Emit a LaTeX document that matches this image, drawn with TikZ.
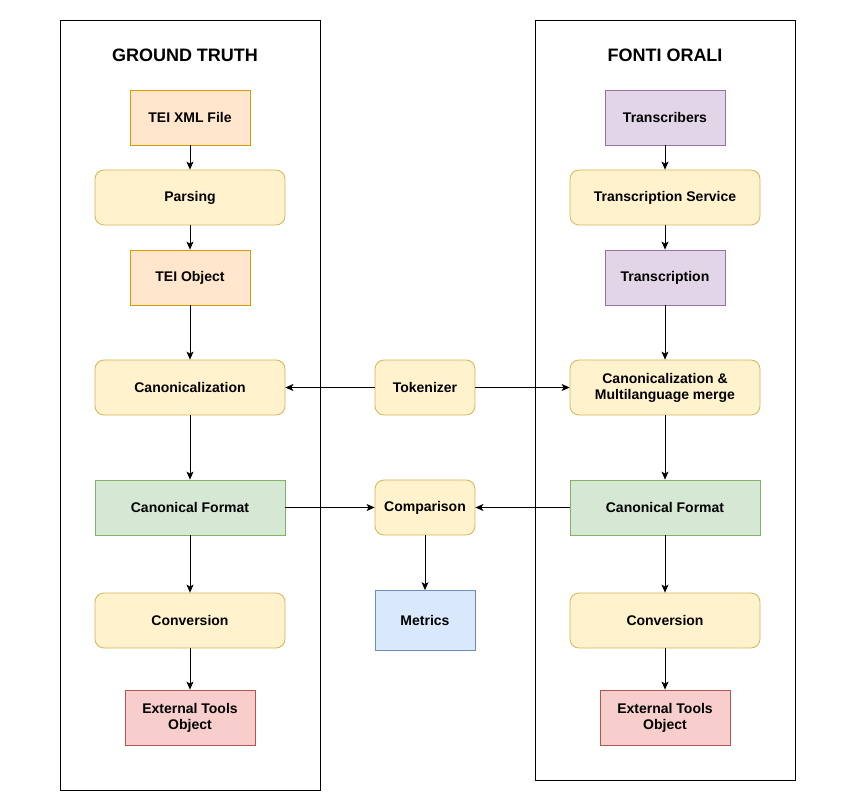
\documentclass[tikz,border=0pt]{standalone}
\usepackage{fontspec}
\setmainfont{Liberation Sans}
\usetikzlibrary{arrows.meta}
\definecolor{orfill}{HTML}{FFE6CC}\definecolor{ordraw}{HTML}{D79B00}
\definecolor{yefill}{HTML}{FFF2CC}\definecolor{yedraw}{HTML}{D6B656}
\definecolor{grfill}{HTML}{D5E8D4}\definecolor{grdraw}{HTML}{82B366}
\definecolor{refill}{HTML}{F8CECC}\definecolor{redraw}{HTML}{B85450}
\definecolor{blfill}{HTML}{DAE8FC}\definecolor{bldraw}{HTML}{6C8EBF}
\definecolor{pufill}{HTML}{E1D5E7}\definecolor{pudraw}{HTML}{9673A6}
\begin{document}
\begin{tikzpicture}[x=1pt,y=-1pt,
  base/.style={line width=0.8pt,font=\fontsize{14}{16}\selectfont\bfseries,align=center,inner sep=0pt},
  orbox/.style={base,fill=orfill,draw=ordraw,minimum width=120pt,minimum height=55pt},
  pubox/.style={base,fill=pufill,draw=pudraw,minimum width=120pt,minimum height=55pt},
  yebox/.style={base,fill=yefill,draw=yedraw,rounded corners=9pt,minimum width=190pt,minimum height=55pt},
  smbox/.style={base,fill=yefill,draw=yedraw,rounded corners=9pt,minimum width=100pt,minimum height=55pt},
  grbox/.style={base,fill=grfill,draw=grdraw,minimum width=190pt,minimum height=55pt},
  rebox/.style={base,fill=refill,draw=redraw,minimum width=130pt,minimum height=55pt},
  blbox/.style={base,fill=blfill,draw=bldraw,minimum width=100pt,minimum height=60pt},
  container/.style={draw=black,line width=0.8pt},
  title/.style={font=\fontsize{18}{20}\selectfont\bfseries},
  arr/.style={-{Stealth[length=8pt,width=7pt,inset=2pt]},line width=0.8pt}]
\useasboundingbox (0,0) rectangle (851,799);
\fill[white] (0,0) rectangle (851,799);
% containers
\draw[container] (60.5,20.5) rectangle (320.5,790.5);
\draw[container] (535.5,20.5) rectangle (795.5,780.5);
\node[title] (t1) at (185,55) {GROUND TRUTH};
\node[title] (t2) at (665,55) {FONTI ORALI};
% left column
\node[orbox] (teixml) at (190,117.5) {TEI XML File};
\node[yebox] (parsing) at (190,197.5) {Parsing};
\node[orbox] (teiobj) at (190,277.5) {TEI Object};
\node[yebox] (canonL) at (190,387.5) {Canonicalization};
\node[grbox] (formL) at (190,507.5) {Canonical Format};
\node[yebox] (convL) at (190,620.5) {Conversion};
\node[rebox] (extL) at (190,717.5) {External Tools\\Object};
% middle
\node[smbox] (tok) at (425,387.5) {Tokenizer};
\node[smbox] (comp) at (425,507.5) {Comparison};
\node[blbox] (metrics) at (425,620.5) {Metrics};
% right column
\node[pubox] (transcribers) at (665,117.5) {Transcribers};
\node[yebox] (tservice) at (665,197.5) {Transcription Service};
\node[pubox] (transcription) at (665,277.5) {Transcription};
\node[yebox] (canonR) at (665,387.5) {Canonicalization \&\\Multilanguage merge};
\node[grbox] (formR) at (665,507.5) {Canonical Format};
\node[yebox] (convR) at (665,620.5) {Conversion};
\node[rebox] (extR) at (665,717.5) {External Tools\\Object};
% arrows
\draw[arr] (teixml) -- (parsing);
\draw[arr] (parsing) -- (teiobj);
\draw[arr] (teiobj) -- (canonL);
\draw[arr] (canonL) -- (formL);
\draw[arr] (formL) -- (convL);
\draw[arr] (convL) -- (extL);
\draw[arr] (transcribers) -- (tservice);
\draw[arr] (tservice) -- (transcription);
\draw[arr] (transcription) -- (canonR);
\draw[arr] (canonR) -- (formR);
\draw[arr] (formR) -- (convR);
\draw[arr] (convR) -- (extR);
\draw[arr] (tok) -- (canonL);
\draw[arr] (tok) -- (canonR);
\draw[arr] (formL) -- (comp);
\draw[arr] (formR) -- (comp);
\draw[arr] (comp) -- (metrics);
\end{tikzpicture}
\end{document}
